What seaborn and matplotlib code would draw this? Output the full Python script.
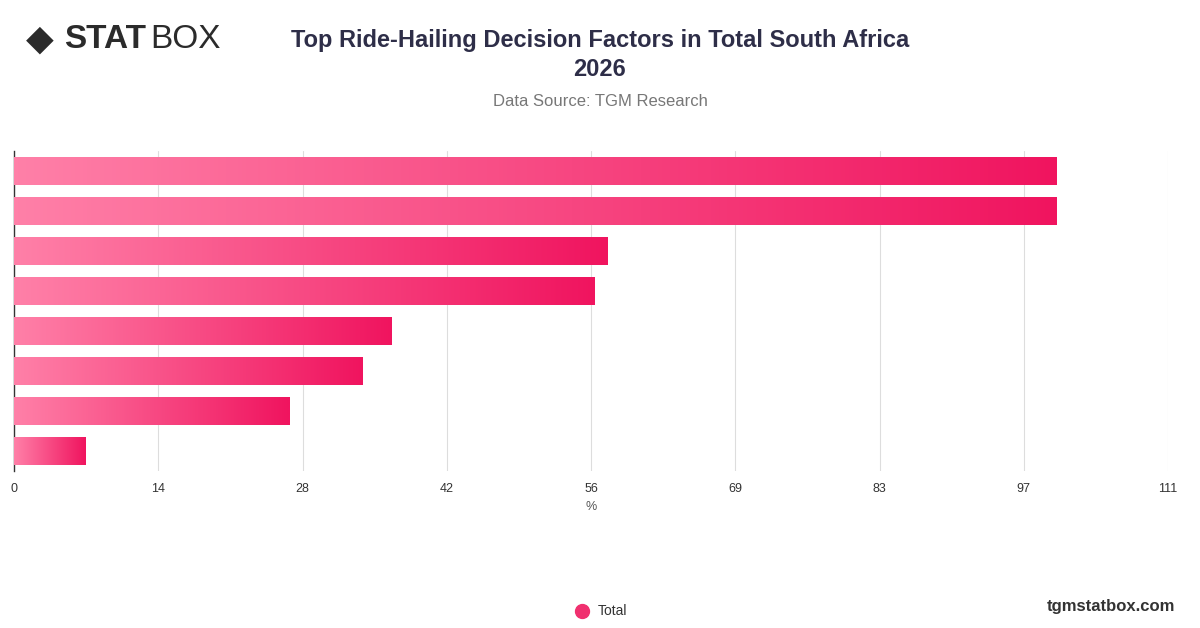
import matplotlib
matplotlib.use("Agg")
import matplotlib.pyplot as plt
import seaborn as sns
import numpy as np
import pandas as pd
from matplotlib.colors import LinearSegmentedColormap

categories = ["Factor 1", "Factor 2", "Factor 3", "Factor 4", "Factor 5", "Factor 6", "Factor 7", "Factor 8"]
values = [100.3, 100.3, 57.1, 55.8, 36.3, 33.5, 26.5, 6.9]
tick_vals = [0, 13.875, 27.75, 41.625, 55.5, 69.375, 83.25, 97.125, 111]
tick_labels = ["0", "14", "28", "42", "56", "69", "83", "97", "111"]

sns.set_theme(style="white")
plt.rcParams['font.family'] = ['Liberation Sans', 'DejaVu Sans']

fig = plt.figure(figsize=(12, 6.28), dpi=100)
ax = fig.add_axes([14/1200, 1-471/628, 1154/1200, 320/628])
df = pd.DataFrame({"cat": categories, "val": values})
sns.barplot(data=df, x="val", y="cat", ax=ax, width=0.7, color="#f0145f", orient="h")

cmap = LinearSegmentedColormap.from_list("g", ["#ff80a8", "#f0145f"])
grad = np.linspace(0, 1, 256).reshape(1, -1)
for p in list(ax.patches):
    x0, y0, w, h = p.get_x(), p.get_y(), p.get_width(), p.get_height()
    im = ax.imshow(grad, cmap=cmap, aspect="auto", extent=[x0, x0 + w, y0 + h, y0], zorder=3)
    im.set_clip_path(p)
    p.set_alpha(0)

ax.set_xlim(0, 111)
ax.set_ylim(7.5, -0.5)
ax.set_xticks(tick_vals)
ax.set_xticklabels(tick_labels, fontsize=9, color="#333333")
ax.set_yticks([])
ax.set_ylabel("")
ax.set_xlabel("%", fontsize=9, color="#555555")
ax.grid(axis="x", color="#dddddd", linewidth=0.8, zorder=0)
ax.set_axisbelow(True)
for s in ["top", "right", "bottom"]:
    ax.spines[s].set_visible(False)
ax.spines["left"].set_color("#333333")
ax.spines["left"].set_linewidth(1)
ax.tick_params(axis="x", length=0, pad=9)

fig.text(0.5, 1-40/628, "Top Ride-Hailing Decision Factors in Total South Africa", ha="center", va="center",
         fontsize=17, fontweight="bold", color="#2e2e48")
fig.text(0.5, 1-70/628, "2026", ha="center", va="center", fontsize=17, fontweight="bold", color="#2e2e48")
fig.text(0.5, 1-101/628, "Data Source: TGM Research", ha="center", va="center", fontsize=12, color="#777777")

fig.text(26/1200, 1-40/628, "◆", ha="left", va="center", fontsize=26, color="#2b2b2b")
fig.text(64/1200, 1-40/628, "STAT", ha="left", va="center", fontsize=24, fontweight="bold", color="#2b2b2b")
fig.text(150/1200, 1-40/628, "BOX", ha="left", va="center", fontsize=24, color="#2b2b2b")

fig.text(1175/1200, 1-606/628, "tgmstatbox.com", ha="right", va="center", fontsize=12, fontweight="bold", color="#333333")
fig.lines.append(plt.Line2D([582/1200], [1-611/628], marker="o", markersize=10, color="#f0306f",
                            transform=fig.transFigure))
fig.text(598/1200, 1-611/628, "Total", ha="left", va="center", fontsize=10, color="#333333")

fig.savefig("out.png", dpi=100)
